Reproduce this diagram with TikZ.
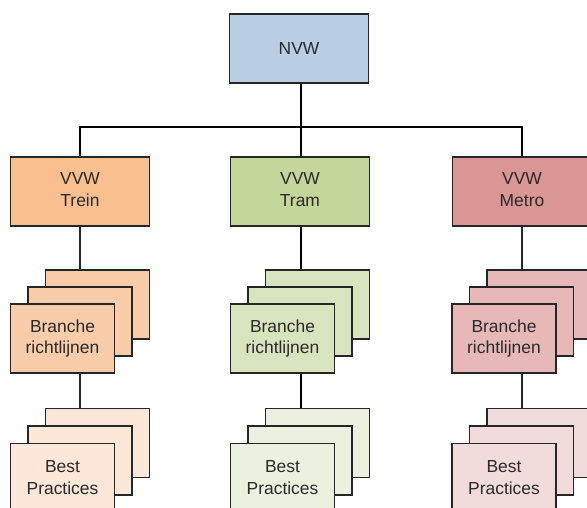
\documentclass[tikz,border=0pt]{standalone}
\usepackage{fontspec}
\setmainfont{Liberation Sans}
\definecolor{cnvw}{HTML}{B9CDE5}
\definecolor{ctra}{HTML}{F9BF8F}
\definecolor{ctrb}{HTML}{F9CCAA}
\definecolor{ctrc}{HTML}{FCE7D9}
\definecolor{ctma}{HTML}{C4D79B}
\definecolor{ctmb}{HTML}{D7E4BD}
\definecolor{ctmc}{HTML}{EBF1DF}
\definecolor{cmea}{HTML}{D99694}
\definecolor{cmeb}{HTML}{E6B8B7}
\definecolor{cmec}{HTML}{F2DCDB}
\definecolor{txt}{HTML}{2A2A2A}
\definecolor{edge}{HTML}{262626}
\newcommand{\twoline}[2]{\raisebox{5bp}{\begin{tabular}{@{}c@{}}#1\\#2\end{tabular}}}
\begin{document}
\begin{tikzpicture}[x=1bp,y=-1bp,
  basebox/.style={draw=edge, line width=1.6bp, inner sep=0pt, align=center,
    font=\fontsize{17.5}{22}\selectfont, text=txt},
  topbox/.style={basebox, minimum width=139bp, minimum height=69bp},
  docbox/.style={basebox, minimum width=104bp, minimum height=69bp},
  thinline/.style={draw=edge, line width=1.6bp},
  thickline/.style={draw=black, line width=2.8bp}]
\useasboundingbox (0,0) rectangle (587,508);

\node[topbox, fill=cnvw] (nvw) at (299,48.5) {NVW};
\node[topbox, fill=ctra] (trein) at (80,191.5) {\twoline{VVW}{Trein}};
\node[topbox, fill=ctma] (tram) at (300,191.5) {\twoline{VVW}{Tram}};
\node[topbox, fill=cmea] (metro) at (522,191.5) {\twoline{VVW}{Metro}};

\foreach \n/\x/\cb/\cc in {tr/62.5/ctrb/ctrc, tm/282.5/ctmb/ctmc, me/504/cmeb/cmec}{
  \node[docbox, fill=\cb] (\n-b3) at (\x+35,304.5) {};
  \node[docbox, fill=\cb] (\n-b2) at (\x+17.5,321.5) {};
  \node[docbox, fill=\cb] (\n-b1) at (\x,338.5) {Branche\\richtlijnen};
  \node[docbox, fill=\cc] (\n-p3) at (\x+35,443) {};
  \node[docbox, fill=\cc] (\n-p2) at (\x+17.5,460.5) {};
  \node[docbox, fill=\cc] (\n-p1) at (\x,478) {Best\\Practices};
}

\coordinate (j) at (301,127);
\draw[thickline] (nvw.south -| j) -- (tram.north -| j);
\draw[thickline, line width=2.6bp] (trein.north) |- (j) -| (metro.north);

\draw[thinline] (trein.south) -- (trein.south |- tr-b3.north);
\draw[thinline] (trein.south |- tr-b1.south) -- (trein.south |- tr-p3.north);
\draw[thickline] (tram.south -| j) -- (j |- tm-b3.north);
\draw[thickline] (j |- tm-b1.south) -- (j |- tm-p3.north);
\draw[thinline] (metro.south) -- (metro.south |- me-b3.north);
\draw[thinline] (metro.south |- me-b1.south) -- (metro.south |- me-p3.north);
\end{tikzpicture}
\end{document}
